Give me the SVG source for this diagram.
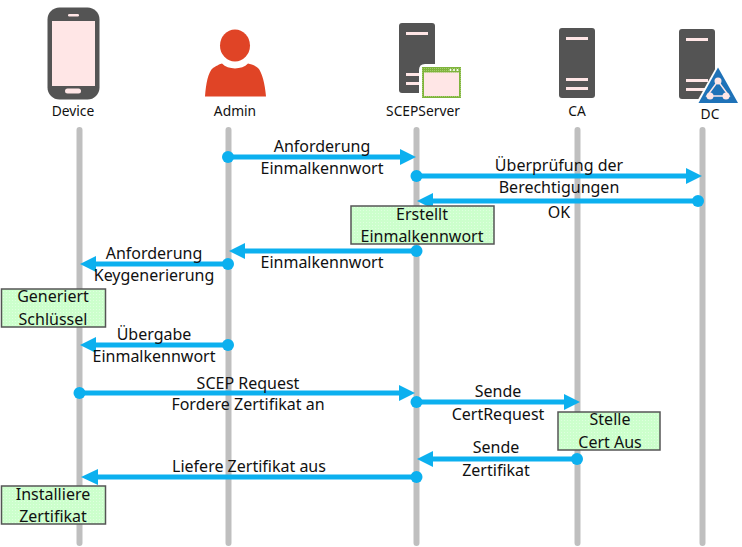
<svg xmlns="http://www.w3.org/2000/svg" width="742" height="547" viewBox="0 0 742 547">
<style>
text{font-family:"Noto Sans","Open Sans","Liberation Sans",sans-serif;fill:#111;text-anchor:middle}
.n{font-size:13.8px}
.t{font-size:16px}
.life{stroke:#bfbfbf;stroke-width:6;stroke-linecap:round;fill:none}
.msg{stroke:#0cb0ef;stroke-width:5;fill:none}
.dot{fill:#0cb0ef}
.head{fill:#0cb0ef}
.box{fill:url(#g);stroke:#555;stroke-width:1.5}
.srv{fill:#545454}
.bar{fill:#ffe6e6}
</style>
<defs>
<pattern id="g" width="3" height="3" patternUnits="userSpaceOnUse"><rect width="3" height="3" fill="#ccffcc"/><rect width="1" height="1" fill="#dfffdf"/></pattern>
<pattern id="w" width="2" height="2" patternUnits="userSpaceOnUse"><rect width="2" height="2" fill="#7fb43c"/><rect width="1" height="1" fill="#a5cc70"/></pattern>
</defs>
<g id="lifelines">
<path class="life" d="M79.500 130V543M228.500 130V543M416.500 130V543M577.500 130V543M702.500 130V543"/>
</g>
<g id="connectors">
<path class="msg" d="M228 157H400M416 176H688M698 201H433M416 251H245M228 264H96M228 345H96M79 393H400M416 402H564M577 459H433M416 477H98"/>
<path class="head" d="M416 157L400 149V165ZM702 176L686 168V184ZM417 201L433 193V209ZM229 251L245 243V259ZM80 264L96 256V272ZM80 345L96 337V353ZM415 393L399 385V401ZM580 402L564 394V410ZM417 459L433 451V467ZM81 477L98 469V485Z"/>
<g class="dot"><circle cx="228" cy="157" r="6"/><circle cx="416.500" cy="176" r="6"/><circle cx="698" cy="201" r="6"/><circle cx="416.500" cy="251" r="6"/><circle cx="228" cy="264" r="6"/><circle cx="228" cy="345" r="6"/><circle cx="79.500" cy="393" r="6"/><circle cx="416.500" cy="402" r="6"/><circle cx="577" cy="459" r="6"/><circle cx="416.500" cy="477" r="6"/></g>
</g>
<g id="Device">
<rect x="47.500" y="7.500" width="52" height="92" rx="12" fill="#545454"/>
<rect x="52" y="21" width="43" height="65" class="bar"/>
<rect x="68" y="14" width="11" height="2.500" rx="1.200" class="bar"/>
<rect x="65" y="88.500" width="16" height="5" rx="2.500" class="bar"/>
<text class="n" x="73" y="116">Device</text>
</g>
<g id="Admin">
<ellipse cx="235" cy="45.500" rx="15" ry="16" fill="#e04426"/>
<path d="M205 96.500C206 84 208 72 213 68C218 65 220 64 222 63.500C228 70 242 70 248 63.500C251 64 254 65 258 68C262 72 265 84 266 96.500Z" fill="#e04426"/>
<text class="n" x="235" y="116">Admin</text>
</g>
<g id="SCEPServer">
<rect x="399" y="23" width="36" height="70" rx="3" class="srv"/>
<rect x="406" y="32" width="22" height="3" class="bar"/>
<rect x="406" y="73" width="22" height="3" class="bar"/>
<rect x="406" y="82" width="22" height="3" class="bar"/>
<path d="M419 97V70Q419 64 425 64H462V100H422Z" fill="#fff"/>
<rect x="422" y="67" width="39" height="31" fill="url(#w)"/>
<rect x="424" y="72.500" width="35" height="23.500" class="bar"/>
<g fill="#fff"><circle cx="450.500" cy="70" r="1"/><circle cx="454" cy="70" r="1"/><circle cx="457.500" cy="70" r="1"/></g>
<text class="n" x="423" y="116">SCEPServer</text>
</g>
<g id="CA">
<rect x="559" y="28" width="36" height="70" rx="3" class="srv"/>
<rect x="566" y="37" width="22" height="3" class="bar"/>
<rect x="566" y="78" width="22" height="3" class="bar"/>
<rect x="566" y="87" width="22" height="3" class="bar"/>
<text class="n" x="577" y="116">CA</text>
</g>
<g id="DC">
<rect x="679" y="29" width="36" height="70" rx="3" class="srv"/>
<rect x="686" y="38" width="22" height="3" class="bar"/>
<rect x="686" y="79" width="22" height="3" class="bar"/>
<rect x="686" y="88" width="22" height="3" class="bar"/>
<path d="M718 64L741 105H695Z" fill="#fff"/>
<path d="M718 67.500L738 103H698.500Z" fill="#1f72b8"/>
<path d="M718 81L707 96H729Z" fill="none" stroke="#ffe6e6" stroke-width="1.500"/>
<g class="bar"><circle cx="718" cy="81" r="3.500"/><circle cx="710" cy="96" r="3.500"/><circle cx="726" cy="96" r="3.500"/></g>
<text class="n" x="710" y="119">DC</text>
</g>
<g id="labels">
<text class="t" x="322" y="152">Anforderung</text>
<text class="t" x="322" y="174">Einmalkennwort</text>
<text class="t" x="559" y="171">Überprüfung der</text>
<text class="t" x="559" y="193">Berechtigungen</text>
<text class="t" x="559" y="218">OK</text>
<text class="t" x="322" y="268">Einmalkennwort</text>
<text class="t" x="154" y="259">Anforderung</text>
<text class="t" x="154" y="281">Keygenerierung</text>
<text class="t" x="154" y="340">Übergabe</text>
<text class="t" x="154" y="362">Einmalkennwort</text>
<text class="t" x="248" y="389">SCEP Request</text>
<text class="t" x="248" y="410">Fordere Zertifikat an</text>
<text class="t" x="498" y="397">Sende</text>
<text class="t" x="498" y="420">CertRequest</text>
<text class="t" x="496" y="453">Sende</text>
<text class="t" x="496" y="476">Zertifikat</text>
<text class="t" x="249" y="472">Liefere Zertifikat aus</text>
</g>
<g id="note-erstellt"><rect class="box" x="351" y="206" width="143" height="38"/><text class="t" x="422" y="220">Erstellt</text><text class="t" x="422" y="242">Einmalkennwort</text></g>
<g id="note-generiert"><rect class="box" x="1.500" y="289" width="104" height="38"/><text class="t" x="53" y="302">Generiert</text><text class="t" x="53" y="325">Schlüssel</text></g>
<g id="note-stelle"><rect class="box" x="558" y="412" width="102" height="38"/><text class="t" x="610" y="425">Stelle</text><text class="t" x="610" y="448">Cert Aus</text></g>
<g id="note-installiere"><rect class="box" x="1.500" y="486" width="104" height="38"/><text class="t" x="53" y="500">Installiere</text><text class="t" x="53" y="522">Zertifikat</text></g>
</svg>
